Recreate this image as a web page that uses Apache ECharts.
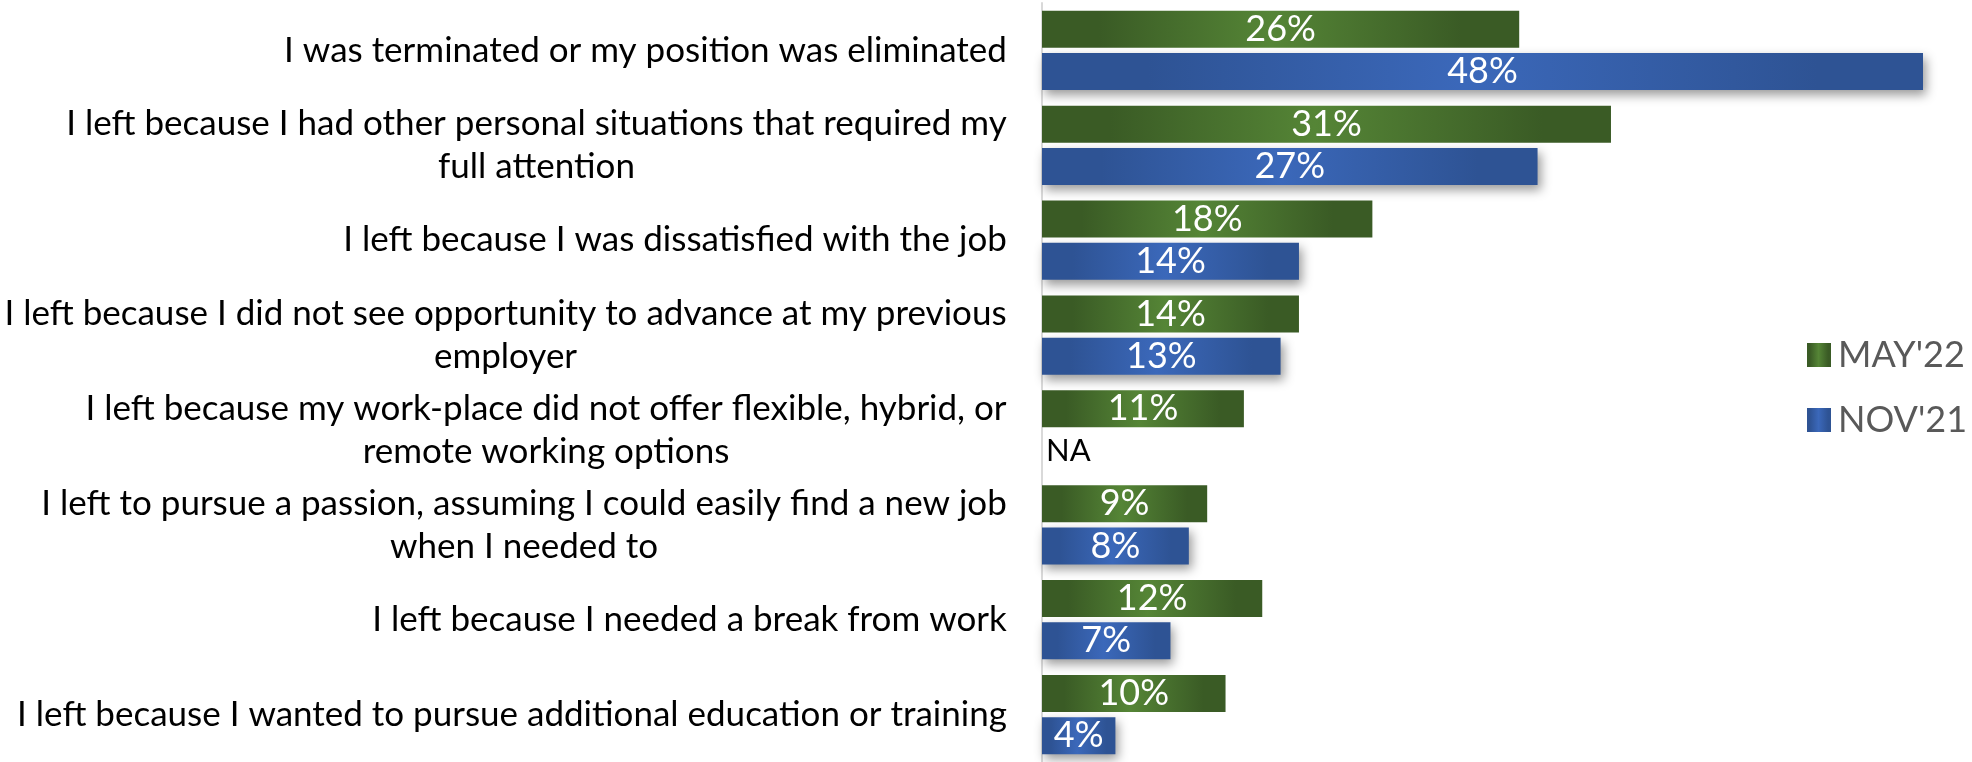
<!DOCTYPE html>
<html><head><meta charset="utf-8">
<script src="https://cdn.jsdelivr.net/npm/echarts@6/dist/echarts.min.js"></script>
<style>html,body{margin:0;padding:0;background:#fff}#c{width:1972px;height:762px}</style>
</head><body><div id="c"></div>
<script>
const categories = [
  "I was terminated or my position was eliminated",
  "I left because I had other personal situations that required my\nfull attention",
  "I left because I was dissatisfied with the job",
  "I left because I did not see opportunity to advance at my previous\nemployer",
  "I left because my work-place did not offer flexible, hybrid, or\nremote working options",
  "I left to pursue a passion, assuming I could easily find a new job\nwhen I needed to",
  "I left because I needed a break from work",
  "I left because I wanted to pursue additional education or training"
];
const seriesNames = ["MAY'22", "NOV'21"];
const may22 = [26, 31, 18, 14, 11, 9, 12, 10];
const nov21 = [48, 27, 14, 13, null, 8, 7, 4];
const naText = "NA";

const labelFontSize = 35;
const labelFamily = "Lato";
const canvas = document.createElement('canvas');
const ctx = canvas.getContext('2d');
ctx.font = labelFontSize + 'px ' + labelFamily;
const rich = {};
categories.forEach((c, i) => {
  const w = Math.max(...c.split('\n').map(l => ctx.measureText(l).width));
  rich['c' + i] = {width: Math.ceil(w) + 2, align: 'center', fontSize: labelFontSize, fontFamily: labelFamily, color: '#000', lineHeight: 43};
});

function grad(edge, mid) {
  return new echarts.graphic.LinearGradient(0, 0, 1, 0, [
    {offset: 0, color: edge}, {offset: 0.12, color: edge},
    {offset: 0.48, color: mid}, {offset: 0.88, color: edge}, {offset: 1, color: edge}
  ]);
}
const greenFill = grad('#3a5b25', '#558536');
const blueFill = grad('#2e5394', '#3b68ba');

const chart = echarts.init(document.getElementById('c'));
chart.setOption({
  animation: false,
  backgroundColor: '#fff',
  grid: {left: 1040, right: 49, top: 3, bottom: -3, containLabel: false},
  legend: {
    orient: 'vertical', left: 1802, top: 330,
    itemWidth: 24, itemHeight: 24, itemGap: 25,
    icon: 'rect',
    textStyle: {fontFamily: 'Lato', fontSize: 36, color: '#595959', lineHeight: 40, padding: [0, 0, 0, 2]},
    data: seriesNames
  },
  xAxis: {
    type: 'value', min: 0, max: 48,
    show: false
  },
  yAxis: {
    type: 'category', inverse: true, data: categories,
    axisLine: {show: true, lineStyle: {color: '#d9d9d9', width: 2}},
    axisTick: {show: false},
    axisLabel: {
      margin: 34, align: 'right',
      formatter: (v, i) => v.split('\n').map(l => '{c' + i + '|' + l + '}').join('\n'),
      rich: rich
    }
  },
  series: [
    {
      name: seriesNames[0], type: 'bar', data: may22,
      barWidth: 37, barGap: '14%',
      itemStyle: {color: greenFill},
      label: {show: true, position: 'inside', formatter: '{c}%', color: '#fff', fontFamily: 'Lato', fontSize: 36}
    },
    {
      name: seriesNames[1], type: 'bar',
      data: nov21.map(v => v === null
        ? {value: 0, itemStyle: {shadowBlur: 0, shadowColor: 'transparent'},
           label: {show: true, position: 'right', distance: 4, formatter: naText, color: '#000', fontFamily: 'Lato', fontSize: 31}}
        : v),
      barWidth: 37, barGap: '14%',
      itemStyle: {color: blueFill, shadowColor: 'rgba(0,0,0,0.4)', shadowBlur: 10, shadowOffsetX: 3, shadowOffsetY: 5},
      label: {show: true, position: 'inside', formatter: '{c}%', color: '#fff', fontFamily: 'Lato', fontSize: 36}
    }
  ]
});
</script>
</body></html>
